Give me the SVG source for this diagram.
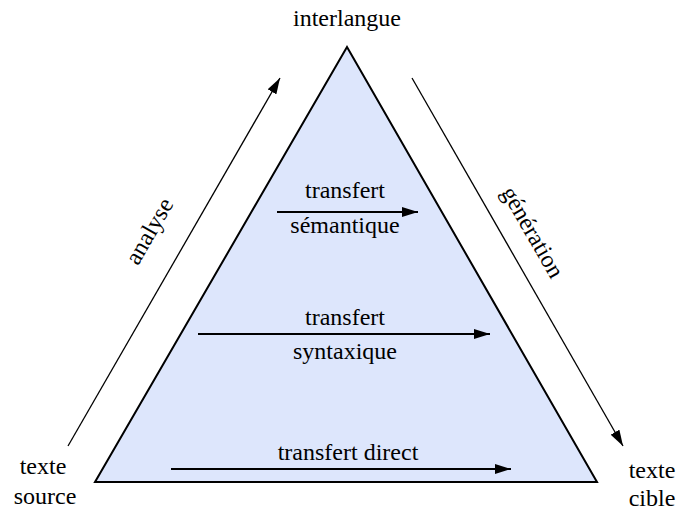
<svg xmlns="http://www.w3.org/2000/svg" width="680" height="511" viewBox="0 0 680 511">
<defs>
<marker id="ahb" markerWidth="16" markerHeight="10" refX="16" refY="5" orient="auto" markerUnits="userSpaceOnUse"><path d="M0,0 L16,5 L0,10 z" fill="#000"/></marker>
</defs>
<rect width="680" height="511" fill="#fff"/>
<g id="triangle"><polygon points="347,47 95,482 597,482" fill="#dde6fc" stroke="#000" stroke-width="2" stroke-linejoin="miter"/></g>
<g id="connectors" stroke="#000" fill="none">
<line stroke-width="1.3" x1="68" y1="446" x2="280" y2="78" marker-end="url(#ahb)"/>
<line stroke-width="1.3" x1="412" y1="78" x2="623" y2="446" marker-end="url(#ahb)"/>
<line stroke-width="2" x1="277" y1="212" x2="418" y2="212" marker-end="url(#ahb)"/>
<line stroke-width="2" x1="198" y1="334" x2="490" y2="334" marker-end="url(#ahb)"/>
<line stroke-width="2" x1="171" y1="469" x2="511" y2="469" marker-end="url(#ahb)"/>
</g>
<g id="interlangue"><text font-family="Liberation Serif" font-size="24" text-anchor="middle" x="347" y="26">interlangue</text></g>
<g id="source"><text font-family="Liberation Serif" font-size="24" text-anchor="middle" x="43" y="474">texte</text><text font-family="Liberation Serif" font-size="24" text-anchor="middle" x="45" y="504">source</text></g>
<g id="cible"><text font-family="Liberation Serif" font-size="24" text-anchor="middle" x="652" y="478">texte</text><text font-family="Liberation Serif" font-size="24" text-anchor="middle" x="652" y="506">cible</text></g>
<g id="analyse"><text font-family="Liberation Serif" font-size="24" text-anchor="middle" transform="translate(156,235) rotate(-60)">analyse</text></g>
<g id="generation"><text font-family="Liberation Serif" font-size="24" text-anchor="middle" transform="translate(526,236) rotate(60)">g&#233;n&#233;ration</text></g>
<g id="semantique"><text font-family="Liberation Serif" font-size="24" text-anchor="middle" x="345" y="198">transfert</text><text font-family="Liberation Serif" font-size="24" text-anchor="middle" x="345" y="233">s&#233;mantique</text></g>
<g id="syntaxique"><text font-family="Liberation Serif" font-size="24" text-anchor="middle" x="345" y="325">transfert</text><text font-family="Liberation Serif" font-size="24" text-anchor="middle" x="345" y="359">syntaxique</text></g>
<g id="direct"><text font-family="Liberation Serif" font-size="24" text-anchor="middle" x="348" y="460">transfert direct</text></g>
</svg>
